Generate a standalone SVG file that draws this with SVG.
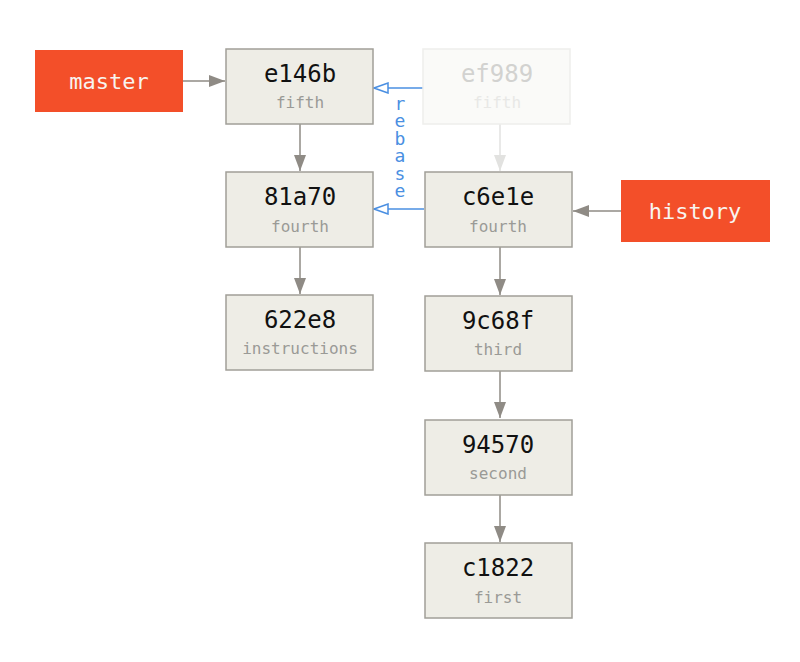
<svg xmlns="http://www.w3.org/2000/svg" width="800" height="662" viewBox="0 0 800 662">
<defs>
<style>
.c{fill:#EEEDE6;stroke:#A19F98;stroke-width:1.5}
.f{fill:#FAFAF8;stroke:#EEEEEC;stroke-width:1.5}
.b{fill:#F34F29}
.h{font-family:"DejaVu Sans Mono",monospace;font-size:24px;fill:#111;text-anchor:middle}
.s{font-family:"DejaVu Sans Mono",monospace;font-size:16px;fill:#9A9A96;text-anchor:middle}
.fh{font-family:"DejaVu Sans Mono",monospace;font-size:24px;fill:#D2D2D0;text-anchor:middle}
.fs{font-family:"DejaVu Sans Mono",monospace;font-size:16px;fill:#E8E8E6;text-anchor:middle}
.bt{font-family:"DejaVu Sans Mono",monospace;font-size:22px;fill:#F8F4F0;text-anchor:middle}
.r{font-family:"DejaVu Sans Mono",monospace;font-size:18px;fill:#4A8FE2;writing-mode:vertical-rl;text-orientation:upright;letter-spacing:-3.6px}
.a{stroke:#8F8B85;stroke-width:1.5;fill:none;marker-end:url(#ag)}
.al{stroke:#E2E2E0;stroke-width:1.5;fill:none;marker-end:url(#al)}
.ab{stroke:#4A8FE2;stroke-width:1.5;fill:none;marker-end:url(#ab)}
</style>
<marker id="ag" viewBox="0 0 16 12" refX="16" refY="6" markerWidth="16" markerHeight="12" markerUnits="userSpaceOnUse" orient="auto"><path d="M0,0 L16,6 L0,12 z" fill="#8F8B85"/></marker>
<marker id="al" viewBox="0 0 16 12" refX="16" refY="6" markerWidth="16" markerHeight="12" markerUnits="userSpaceOnUse" orient="auto"><path d="M0,0 L16,6 L0,12 z" fill="#E2E2E0"/></marker>
<marker id="ab" viewBox="0 0 16 12" refX="15" refY="6" markerWidth="16" markerHeight="12" markerUnits="userSpaceOnUse" orient="auto"><path d="M1,1 L15,6 L1,11 z" fill="#fff" stroke="#4A8FE2" stroke-width="1.5"/></marker>
</defs>
<rect width="800" height="662" fill="#fff"/>
<g id="connectors">
<line class="a" x1="183" y1="81" x2="225" y2="81"/>
<line class="a" x1="300" y1="124" x2="300" y2="171"/>
<line class="a" x1="300" y1="247" x2="300" y2="294"/>
<line class="al" x1="500" y1="124" x2="500" y2="171"/>
<line class="a" x1="621" y1="211" x2="573" y2="211"/>
<line class="a" x1="500" y1="247" x2="500" y2="295"/>
<line class="a" x1="500" y1="371" x2="500" y2="418"/>
<line class="a" x1="500" y1="495" x2="500" y2="542"/>
<line class="ab" x1="423" y1="88" x2="374" y2="88"/>
<line class="ab" x1="424" y1="209" x2="374" y2="209"/>
<text id="rebase-label" class="r" x="400" y="93">rebase</text>
</g>
<g id="master"><rect class="b" x="35" y="50" width="148" height="62"/><text class="bt" x="109" y="89">master</text></g>
<g id="history"><rect class="b" x="621" y="180" width="149" height="62"/><text class="bt" x="695" y="219">history</text></g>
<g id="e146b"><rect class="c" x="226" y="49" width="147" height="75"/><text class="h" x="300" y="82">e146b</text><text class="s" x="300" y="108">fifth</text></g>
<g id="ef989"><rect class="f" x="423" y="49" width="147" height="75"/><text class="fh" x="497" y="82">ef989</text><text class="fs" x="497" y="108">fifth</text></g>
<g id="81a70"><rect class="c" x="226" y="172" width="147" height="75"/><text class="h" x="300" y="205">81a70</text><text class="s" x="300" y="232">fourth</text></g>
<g id="c6e1e"><rect class="c" x="425" y="172" width="147" height="75"/><text class="h" x="498" y="205">c6e1e</text><text class="s" x="498" y="232">fourth</text></g>
<g id="622e8"><rect class="c" x="226" y="295" width="147" height="75"/><text class="h" x="300" y="328">622e8</text><text class="s" x="300" y="354">instructions</text></g>
<g id="9c68f"><rect class="c" x="425" y="296" width="147" height="75"/><text class="h" x="498" y="329">9c68f</text><text class="s" x="498" y="355">third</text></g>
<g id="94570"><rect class="c" x="425" y="420" width="147" height="75"/><text class="h" x="498" y="453">94570</text><text class="s" x="498" y="479">second</text></g>
<g id="c1822"><rect class="c" x="425" y="543" width="147" height="75"/><text class="h" x="498" y="576">c1822</text><text class="s" x="498" y="603">first</text></g>
</svg>
